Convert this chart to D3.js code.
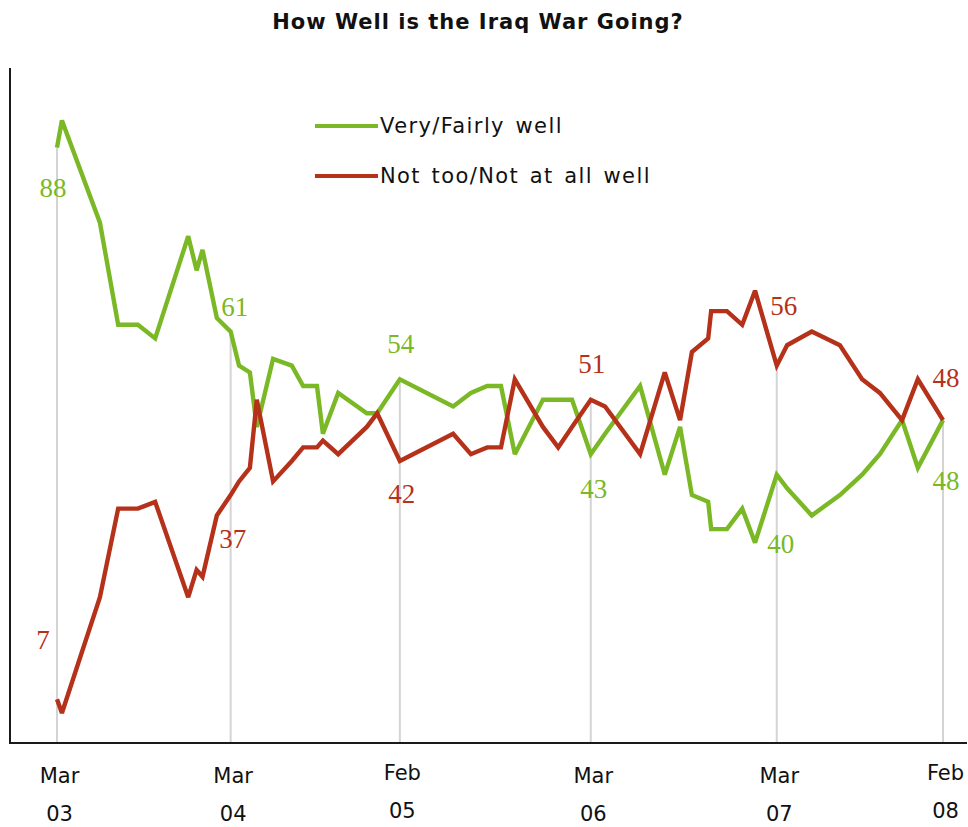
<!DOCTYPE html>
<html>
<head>
<meta charset="utf-8">
<script src="https://cdn.jsdelivr.net/npm/d3@7"></script>
<style>
  html, body { margin: 0; padding: 0; background: #ffffff; }
  svg { display: block; }
</style>
</head>
<body>
<svg id="chart" width="968" height="827"></svg>
<script>
// Poll dates and results (percent)
const pollDates = [
  "2003-03-22","2003-04-01","2003-06-17","2003-07-24","2003-09-02","2003-10-07","2003-12-13","2003-12-30",
  "2004-01-11","2004-02-09","2004-03-08","2004-03-25","2004-04-16","2004-04-30","2004-06-02","2004-07-10",
  "2004-08-02","2004-08-30","2004-09-11","2004-10-12","2004-12-09","2004-12-30",
  "2005-02-14","2005-06-02","2005-07-08","2005-08-10","2005-09-07","2005-10-05","2005-12-01",
  "2006-01-01","2006-01-29","2006-03-08","2006-04-06","2006-06-16","2006-08-05","2006-09-05","2006-09-29",
  "2006-11-01","2006-11-07","2006-12-09",
  "2007-01-09","2007-02-04","2007-03-20","2007-04-10","2007-05-30","2007-07-26","2007-09-09","2007-10-15",
  "2007-11-29","2007-12-31",
  "2008-02-20"
];

const veryFairlyWell = [
  88, 92, 77, 62, 62, 60, 75, 70,
  73, 63, 61, 56, 55, 47, 57, 56,
  53, 53, 46, 52, 49, 49,
  54, 50, 52, 53, 53, 43, 51,
  51, 51, 43, 46, 53, 40, 47, 37,
  36, 32, 32,
  35, 30, 40, 38, 34, 37, 40, 43,
  48, 41,
  48
];

const notTooNotAtAll = [
  7, 5, 22, 35, 35, 36, 22, 26,
  25, 34, 37, 39, 41, 51, 39, 42,
  44, 44, 45, 43, 47, 49,
  42, 46, 43, 44, 44, 54, 47,
  44, 47, 51, 50, 43, 55, 48, 58,
  60, 64, 64,
  62, 67, 56, 59, 61, 59, 54, 52,
  48, 54,
  48
];

// Dates marked with a reference line and value labels
const markedDates = ["2003-03-22","2004-03-08","2005-02-14","2006-03-08","2007-03-20","2008-02-20"];
const tickMonths = ["Mar","Mar","Feb","Mar","Mar","Feb"];
const tickYears  = ["03","04","05","06","07","08"];

const seriesNames = ["Very/Fairly well", "Not too/Not at all well"];

// ---- layout / style ----
const W = 968, H = 827;
const frame = { left: 10, top: 68, bottom: 743, right: 967 };
const colors = { good: "#7ab825", bad: "#b5311a", ref: "#d4d4d4", axis: "#1a1a1a" };
// label offsets (dx, baseline dy) from the marked point, per marked date
const goodLabelOffset = [[-4, 49], [4, -16], [1, -26], [3, 44], [4, 78], [3, 70]];
const badLabelOffset  = [[-14, -50], [2, 53], [2, 42], [1, -27], [7, -51], [3, -33]];
// tick label vertical nudges (Feb labels sit a little higher)
const tickNudge = [0, 0, -3, 0, 0, -3];

const parse = d3.timeParse("%Y-%m-%d");
const dates = pollDates.map(parse);

const x = d3.scaleTime()
  .domain([parse("2003-03-22"), parse("2008-02-20")])
  .range([57, 943]);

const y = d3.scaleLinear()
  .domain([0, 100])
  .range([747, 66]);

const svg = d3.select("#chart");

svg.append("rect").attr("width", W).attr("height", H).attr("fill", "#ffffff");

// Title
svg.append("text")
  .attr("x", 478).attr("y", 29)
  .attr("text-anchor", "middle")
  .attr("font-family", "DejaVu Sans, Verdana, sans-serif")
  .attr("font-weight", "bold")
  .attr("font-size", 21)
  .attr("letter-spacing", 1)
  .attr("fill", "#111")
  .text("How Well is the Iraq War Going?");

const good = dates.map((d, i) => ({ date: d, v: veryFairlyWell[i] }));
const bad  = dates.map((d, i) => ({ date: d, v: notTooNotAtAll[i] }));

const valueAt = (arr, ds) => arr[pollDates.indexOf(ds)];

// Reference lines at the marked dates: from the upper point down to the axis
svg.append("g").selectAll("line")
  .data(markedDates)
  .join("line")
  .attr("x1", d => x(parse(d)))
  .attr("x2", d => x(parse(d)))
  .attr("y1", d => y(Math.max(valueAt(veryFairlyWell, d), valueAt(notTooNotAtAll, d))))
  .attr("y2", frame.bottom)
  .attr("stroke", colors.ref)
  .attr("stroke-width", 2);

const line = d3.line()
  .x(d => x(d.date))
  .y(d => y(d.v));

svg.append("path")
  .datum(good)
  .attr("d", line)
  .attr("fill", "none")
  .attr("stroke", colors.good)
  .attr("stroke-width", 4.4)
  .attr("stroke-linejoin", "miter")
  .attr("stroke-miterlimit", 3);

svg.append("path")
  .datum(bad)
  .attr("d", line)
  .attr("fill", "none")
  .attr("stroke", colors.bad)
  .attr("stroke-width", 4.4)
  .attr("stroke-linejoin", "miter")
  .attr("stroke-miterlimit", 3);

// Value labels at the marked dates
const labelFont = "Liberation Serif, Times New Roman, serif";
const labels = svg.append("g")
  .attr("font-family", labelFont)
  .attr("font-size", 27)
  .attr("text-anchor", "middle");

labels.selectAll("text.good")
  .data(markedDates)
  .join("text")
  .attr("class", "good")
  .attr("x", (d, i) => x(parse(d)) + goodLabelOffset[i][0])
  .attr("y", (d, i) => y(valueAt(veryFairlyWell, d)) + goodLabelOffset[i][1])
  .attr("fill", colors.good)
  .text(d => valueAt(veryFairlyWell, d));

labels.selectAll("text.bad")
  .data(markedDates)
  .join("text")
  .attr("class", "bad")
  .attr("x", (d, i) => x(parse(d)) + badLabelOffset[i][0])
  .attr("y", (d, i) => y(valueAt(notTooNotAtAll, d)) + badLabelOffset[i][1])
  .attr("fill", colors.bad)
  .text(d => valueAt(notTooNotAtAll, d));

// Frame: left and bottom edges
svg.append("line")
  .attr("x1", frame.left).attr("x2", frame.left)
  .attr("y1", frame.top).attr("y2", frame.bottom + 1)
  .attr("stroke", colors.axis).attr("stroke-width", 2);
svg.append("line")
  .attr("x1", frame.left - 1).attr("x2", frame.right)
  .attr("y1", frame.bottom).attr("y2", frame.bottom)
  .attr("stroke", colors.axis).attr("stroke-width", 2);

// Bottom axis: two-line month / year labels
const xAxis = d3.axisBottom(x)
  .tickValues(markedDates.map(parse))
  .tickSize(0)
  .tickPadding(0)
  .tickFormat((d, i) => tickMonths[i]);

const axisG = svg.append("g")
  .attr("transform", `translate(0,${frame.bottom})`)
  .call(xAxis);

axisG.select(".domain").remove();
axisG.selectAll(".tick text")
  .attr("font-family", "DejaVu Sans, Verdana, sans-serif")
  .attr("font-size", 21)
  .attr("fill", "#111")
  .attr("dy", null)
  .attr("y", (d, i) => 40 + tickNudge[i])
  .each(function (d, i) {
    const t = d3.select(this);
    t.text(null);
    t.append("tspan").attr("x", 2).text(tickMonths[i]);
    t.append("tspan").attr("x", 2).attr("dy", 38).text(tickYears[i]);
  });

// Legend
const legend = svg.append("g")
  .attr("font-family", "DejaVu Sans, Verdana, sans-serif")
  .attr("font-size", 21)
  .attr("fill", "#111");

const legendItems = [
  { name: seriesNames[0], color: colors.good, y: 126 },
  { name: seriesNames[1], color: colors.bad,  y: 176 }
];

legendItems.forEach(it => {
  legend.append("line")
    .attr("x1", 315).attr("x2", 378)
    .attr("y1", it.y).attr("y2", it.y)
    .attr("stroke", it.color).attr("stroke-width", 4.2);
  legend.append("text")
    .attr("x", 380).attr("y", it.y + 7)
    .attr("letter-spacing", 1.4)
    .attr("word-spacing", 2.5)
    .text(it.name);
});
</script>
</body>
</html>
